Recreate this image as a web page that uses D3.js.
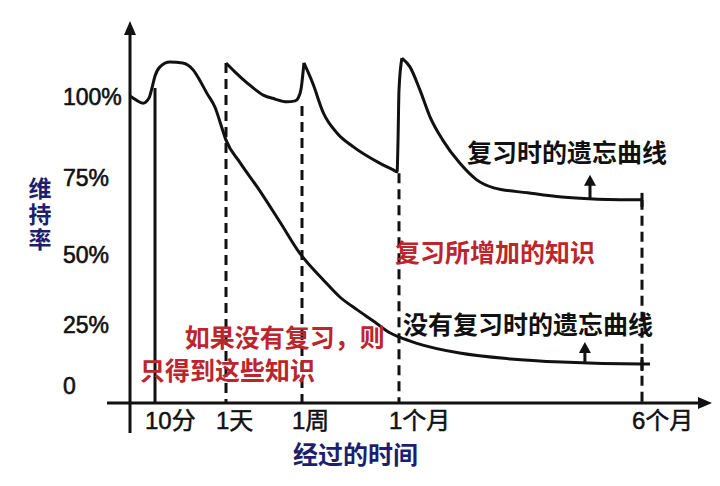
<!DOCTYPE html>
<html><head><meta charset="utf-8">
<script src="https://cdn.jsdelivr.net/npm/d3@7/dist/d3.min.js"></script>
<style>body{margin:0;background:#fff}</style>
</head><body>
<svg id="chart" width="720" height="486"></svg>
<script>
// ---------- data ----------
const timeLabels = ["10分", "1天", "1周", "1个月", "6个月"];
const timeIndex = [1, 2, 3, 4, 5];
const retentionTicks = [100, 75, 50, 25, 0];
const retentionTickLabels = ["100%", "75%", "50%", "25%", "0"];
const yAxisTitle = "维持率";
const xAxisTitle = "经过的时间";

// forgetting curve without review: [time position, retention %]
const noReviewCurve = [
  [0, 100.3], [0.24, 99.1], [0.52, 98.1], [0.76, 99.7], [0.88, 102.8], [1.0, 106.5],
  [1.07, 109.3], [1.21, 110.8], [1.39, 110.5], [1.54, 108.3], [1.63, 105.2], [1.73, 101.2],
  [1.85, 96.6], [1.92, 92.0], [2.0, 86.7], [2.18, 79.9], [2.41, 72.1], [2.71, 60.7],
  [2.97, 50.6], [3.22, 41.1], [3.39, 35.0], [3.57, 30.4], [3.75, 26.1], [3.91, 21.7],
  [4.0, 20.1], [4.07, 17.6], [4.25, 13.5], [4.46, 11.1], [4.67, 9.8], [5.0, 9.0], [5.033, 9.0]
];
// forgetting curve with review (three segments between reviews)
const reviewCurve = [
  [[2.0, 110.5], [2.12, 107.7], [2.28, 104.3], [2.49, 100.6], [2.64, 99.4], [2.80, 98.5],
   [2.91, 98.8], [2.95, 99.7], [2.99, 102.8], [3.02, 110.5]],
  [[3.02, 110.5], [3.11, 104.3], [3.22, 95.1], [3.36, 88.9], [3.53, 84.6], [3.80, 79.6],
   [3.94, 77.5], [3.98, 76.9], [3.99, 86.7], [4.0, 102.2], [4.012, 112.0]],
  [[4.012, 112.0], [4.045, 109.3], [4.086, 102.2], [4.128, 93.8], [4.18, 86.7], [4.25, 79.6],
   [4.32, 74.4], [4.39, 71.8], [4.53, 70.2], [4.67, 68.8], [4.80, 68.2], [5.0, 67.9]]
];
// where each vertical time marker starts (retention %)
const markerTops = [102.8, 110.5, 97.2, 76.5, 67.9];
const markerSolid = [true, false, false, false, false];
// small arrows pointing at the curves
const arrowT = [4.786, 4.765];
const arrowFrom = [68.3, 9.9];
const arrowTo = [76.0, 18.0];
// annotations
const noteTexts = ["复习时的遗忘曲线", "复习所增加的知识", "没有复习时的遗忘曲线", "如果没有复习，则", "只得到这些知识"];
const noteT = [4.28, 3.96, 4.016, 1.42, 0.40];
const noteV = [82.7, 50.6, 25.0, 19.7, 6.2];
const noteRed = [false, true, false, true, true];

// ---------- drawing ----------
const axisFloor = -7;
const svg = d3.select("#chart");
const x = d3.scaleLinear().domain([0, 1, 2, 3, 4, 5]).range([130, 155, 226, 302, 399, 642]);
const y = d3.scaleLinear().domain([axisFloor, 0, 25, 50, 75, 100, 115]).range([403, 386, 325, 255, 178, 97, 48.4]);

const black = "#111";
const red = "#bd252c";
const navy = "#1e1e6e";
const cjk = "'Noto Sans CJK SC', sans-serif";
const latin = "'Liberation Sans', Arial, 'Noto Sans CJK SC', sans-serif";

// vertical time markers
svg.append("g").selectAll("line").data(timeIndex).join("line")
  .attr("x1", d => x(d)).attr("x2", d => x(d))
  .attr("y1", (d, i) => y(markerTops[i])).attr("y2", y(axisFloor))
  .attr("stroke", black).attr("stroke-width", 3)
  .attr("stroke-dasharray", (d, i) => markerSolid[i] ? null : "10,6");

// curves
const line = d3.line().x(d => x(d[0])).y(d => y(d[1])).curve(d3.curveMonotoneX);
svg.append("path").datum(noReviewCurve).attr("d", line)
  .attr("fill", "none").attr("stroke", black).attr("stroke-width", 3);
svg.append("g").selectAll("path").data(reviewCurve).join("path").attr("d", line)
  .attr("fill", "none").attr("stroke", black).attr("stroke-width", 3).attr("stroke-linejoin", "round");

// end caps
const endVals = [noReviewCurve[noReviewCurve.length - 2][1], reviewCurve[2][reviewCurve[2].length - 1][1]];
svg.append("g").selectAll("line").data(endVals).join("line")
  .attr("x1", x(5)).attr("x2", x(5))
  .attr("y1", d => y(d) - 7).attr("y2", d => y(d) + 7)
  .attr("stroke", black).attr("stroke-width", 3);

// arrows
const ag = svg.append("g");
arrowT.forEach((t, i) => {
  const xx = x(t), y0 = y(arrowFrom[i]), y1 = y(arrowTo[i]);
  ag.append("line").attr("x1", xx).attr("x2", xx).attr("y1", y0).attr("y2", y1 + 8)
    .attr("stroke", black).attr("stroke-width", 3);
  ag.append("path").attr("d", `M${xx},${y1}L${xx - 6},${y1 + 11}L${xx + 6},${y1 + 11}Z`).attr("fill", black);
});

// axes
const x0 = x(0), yb = y(axisFloor);
svg.append("line").attr("x1", x0).attr("x2", x0).attr("y1", yb + 30).attr("y2", 30)
  .attr("stroke", black).attr("stroke-width", 3);
svg.append("path").attr("d", `M${x0},21L${x0 - 6},35L${x0 + 6},35Z`).attr("fill", black);
svg.append("line").attr("x1", x0 - 23).attr("x2", 702).attr("y1", yb).attr("y2", yb)
  .attr("stroke", black).attr("stroke-width", 3);
svg.append("path").attr("d", `M712,${yb}L698,${yb - 6}L698,${yb + 6}Z`).attr("fill", black);

// y tick labels
svg.append("g").selectAll("text").data(retentionTicks).join("text")
  .attr("x", x0 - 67).attr("y", d => y(d)).attr("dy", "0.36em")
  .attr("font-family", latin).attr("font-size", 23).attr("fill", black)
  .attr("stroke", black).attr("stroke-width", 0.6)
  .text((d, i) => retentionTickLabels[i]);

// x tick labels
svg.append("g").selectAll("text").data(timeIndex).join("text")
  .attr("x", d => x(d) - 10).attr("y", yb + 17).attr("dy", "0.36em")
  .attr("font-family", latin).attr("font-size", 24).attr("fill", black)
  .attr("stroke", black).attr("stroke-width", 0.5)
  .text((d, i) => timeLabels[i]);

// axis titles
svg.append("text").attr("x", 40).attr("y", 177)
  .attr("writing-mode", "vertical-rl").attr("letter-spacing", 2.5)
  .attr("font-family", cjk).attr("font-weight", "bold")
  .attr("font-size", 23).attr("fill", navy)
  .text(yAxisTitle);
svg.append("text").attr("x", 293).attr("y", 455).attr("dy", "0.36em")
  .attr("font-family", cjk).attr("font-weight", "bold").attr("font-size", 25).attr("fill", navy)
  .text(xAxisTitle);

// annotations
svg.append("g").selectAll("text").data(noteTexts).join("text")
  .attr("x", (d, i) => x(noteT[i])).attr("y", (d, i) => y(noteV[i])).attr("dy", "0.36em")
  .attr("font-family", cjk).attr("font-weight", "bold").attr("font-size", 25)
  .attr("fill", (d, i) => noteRed[i] ? red : black)
  .text(d => d);
</script>
</body></html>
